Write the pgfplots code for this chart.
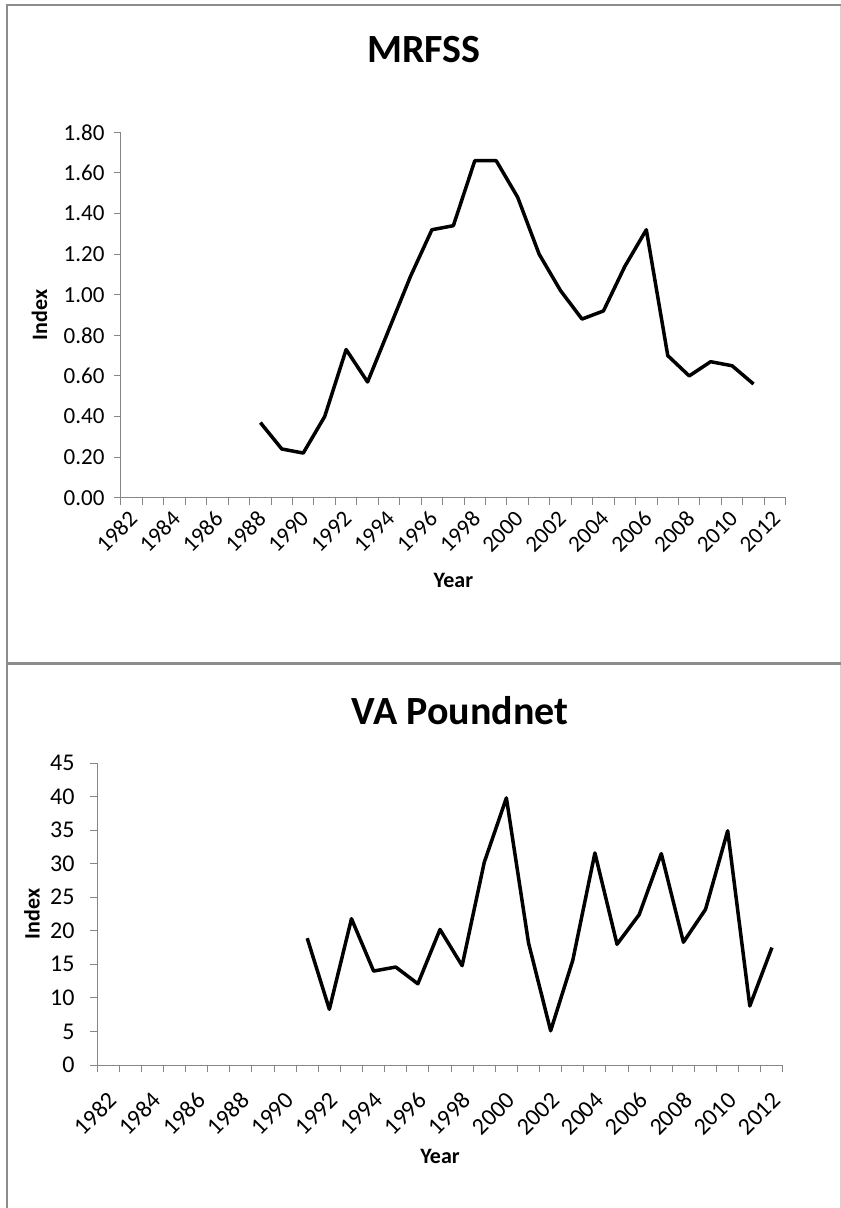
\documentclass[border=0pt]{standalone}
\usepackage{fontspec}
\setmainfont{Carlito}
\usepackage{pgfplots}
\pgfplotsset{compat=1.18}
\definecolor{axisgrey}{HTML}{868686}
\definecolor{borderdark}{HTML}{8C8C8C}
\definecolor{borderlight}{HTML}{D4D4D4}

\pgfplotstableread{
year val
1988 0.37
1989 0.24
1990 0.22
1991 0.40
1992 0.73
1993 0.57
1994 0.83
1995 1.09
1996 1.32
1997 1.34
1998 1.66
1999 1.66
2000 1.48
2001 1.20
2002 1.02
2003 0.88
2004 0.92
2005 1.14
2006 1.32
2007 0.70
2008 0.60
2009 0.67
2010 0.65
2011 0.56
}\mrfss

\pgfplotstableread{
year val
1991 18.9
1992 8.3
1993 21.8
1994 14.0
1995 14.6
1996 12.1
1997 20.2
1998 14.8
1999 30.2
2000 39.8
2001 18.2
2002 5.1
2003 15.6
2004 31.6
2005 18.0
2006 22.4
2007 31.5
2008 18.3
2009 23.2
2010 34.9
2011 8.8
2012 17.5
}\vapound

\pgfplotsset{
  excelax/.style={
    scale only axis,
    axis x line=bottom,
    axis y line=left,
    axis line style={draw=axisgrey, line width=1pt, -},
    tick align=outside,
    major tick length=7pt,
    minor tick length=7pt,
    xmin=1981.5, xmax=2012.5,
    xtick={1982,1984,...,2012},
    xticklabels={1982,1984,1986,1988,1990,1992,1994,1996,1998,2000,2002,2004,2006,2008,2010,2012},
    major x tick style={draw=none},
    minor xtick={1981.5,1982.5,...,2012.5},
    minor x tick style={draw=axisgrey, line width=1pt},
    y tick style={draw=axisgrey, line width=1pt},
    xlabel={Year},
    ylabel={Index},
    label style={font=\fontsize{22}{22}\selectfont\bfseries},
    clip=false,
  }
}

\begin{document}
\begin{tikzpicture}[x=1pt,y=1pt]
\useasboundingbox (0,0) rectangle (841,-1208);
\draw[borderlight, line width=1pt] (840.5,-4) -- (840.5,-1208);
\draw[borderdark, line width=2pt] (7,-1208) -- (7,-5) -- (841,-5);
\draw[borderdark, line width=2.5pt] (7,-663.5) -- (841,-663.5);

\begin{axis}[excelax,
  at={(121pt,-497.7pt)}, anchor=south west,
  width=664.7pt, height=365.4pt,
  ymin=0, ymax=1.8,
  ytick={0,0.2,0.4,0.6,0.8,1.0,1.2,1.4,1.6,1.8},
  yticklabels={0.00,0.20,0.40,0.60,0.80,1.00,1.20,1.40,1.60,1.80},
  xticklabel style={font=\fontsize{23}{23}\selectfont, text=black, xshift=4pt, yshift=-8pt, rotate=45, anchor=east},
  yticklabel style={font=\fontsize{23}{23}\selectfont, text=black, xshift=-6pt, anchor=east},
  xlabel style={at={(axis description cs:0.5,-0.2252)}, anchor=center},
  ylabel style={at={(axis description cs:-0.1226,0.5)}, anchor=center},
]
\addplot[black, line width=3.5pt, line join=round, line cap=butt] table[x=year, y=val] {\mrfss};
\end{axis}

\begin{axis}[excelax,
  at={(97pt,-1065pt)}, anchor=south west,
  width=686pt, height=302pt,
  ymin=0, ymax=45,
  ytick={0,5,10,15,20,25,30,35,40,45},
  yticklabels={0,5,10,15,20,25,30,35,40,45},
  xticklabel style={font=\fontsize{24}{24}\selectfont, text=black, xshift=7pt, yshift=-22pt, rotate=45, anchor=east},
  yticklabel style={font=\fontsize{24}{24}\selectfont, text=black, xshift=-12pt, anchor=east},
  xlabel style={at={(axis description cs:0.5,-0.303)}, anchor=center},
  ylabel style={at={(axis description cs:-0.0948,0.5)}, anchor=center},
]
\addplot[black, line width=3.5pt, line join=round, line cap=butt] table[x=year, y=val] {\vapound};
\end{axis}

\node[font=\fontsize{40}{40}\selectfont\bfseries] at (424,-49.7) {MRFSS};
\node[font=\fontsize{40}{40}\selectfont\bfseries] at (460,-710.5) {VA Poundnet};
\end{tikzpicture}
\end{document}
